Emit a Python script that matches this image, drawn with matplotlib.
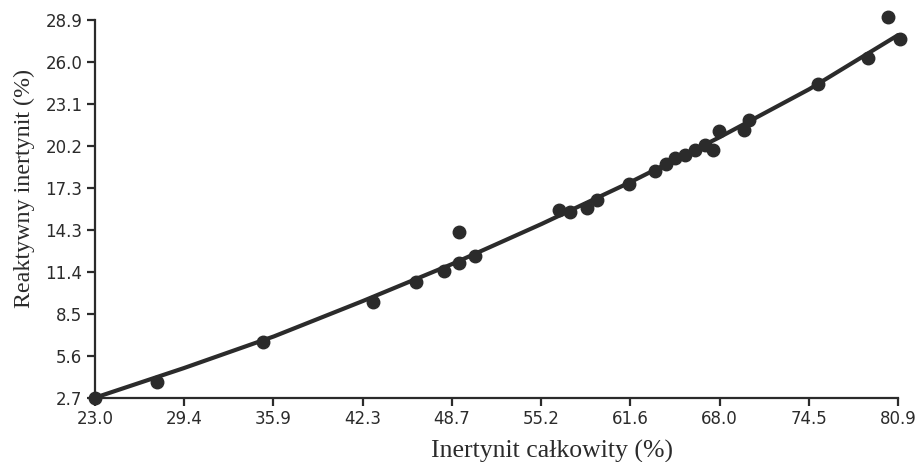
import matplotlib
matplotlib.use("Agg")
import matplotlib.pyplot as plt
import numpy as np

# Measured points
x_pts = [23.0, 27.45, 35.09, 43.07, 46.14, 48.16, 49.24, 50.40, 49.26,
         56.48, 57.25, 58.45, 59.17, 61.52, 63.38, 64.15, 64.82, 65.54,
         66.26, 66.98, 67.58, 68.01, 69.79, 70.15, 75.10, 78.76, 80.20, 81.04]
y_pts = [2.70, 3.81, 6.54, 9.36, 10.75, 11.51, 12.02, 12.55, 14.17,
         15.72, 15.56, 15.84, 16.41, 17.52, 18.41, 18.91, 19.31, 19.54,
         19.88, 20.23, 19.88, 21.22, 21.27, 21.96, 24.46, 26.24, 29.13, 27.56]

# Fitted curve
x_fit = [23.0, 29.4, 35.9, 42.3, 48.7, 55.2, 61.6, 68.0, 74.5, 80.9]
y_fit = [2.70, 4.75, 6.95, 9.40, 11.95, 14.75, 17.65, 20.75, 24.10, 27.85]

xtick_labels = ["23.0", "29.4", "35.9", "42.3", "48.7", "55.2", "61.6", "68.0", "74.5", "80.9"]
ytick_labels = ["2.7", "5.6", "8.5", "11.4", "14.3", "17.3", "20.2", "23.1", "26.0", "28.9"]

ink = "#2b2b2b"

fig = plt.figure(figsize=(9.15, 4.62), dpi=100)
ax = fig.add_axes([0.1038, 0.1392, 0.9814 - 0.1038, 0.9567 - 0.1392])

ax.plot(x_fit, y_fit, color=ink, lw=3.0, solid_capstyle="round", clip_on=False, zorder=3)
ax.plot(x_pts, y_pts, "o", color=ink, ms=9, mec=ink, clip_on=False, zorder=4)

ax.set_xlim(23.0, 80.9)
ax.set_ylim(2.7, 28.9)

xt = np.linspace(23.0, 80.9, len(xtick_labels))
yt = np.linspace(2.7, 28.9, len(ytick_labels))
ax.set_xticks(xt)
ax.set_xticklabels(xtick_labels)
ax.set_yticks(yt)
ax.set_yticklabels(ytick_labels)

for s in ["top", "right"]:
    ax.spines[s].set_visible(False)
for s in ["left", "bottom"]:
    ax.spines[s].set_linewidth(1.6)
    ax.spines[s].set_color(ink)

ax.tick_params(axis="both", direction="out", length=6, width=1.6, color=ink,
               labelsize=12, labelcolor=ink)
ax.tick_params(axis="x", pad=3)
ax.tick_params(axis="y", pad=3)
for lab in ax.get_xticklabels() + ax.get_yticklabels():
    lab.set_fontfamily("DejaVu Sans")

ax.set_xlabel("Inertynit całkowity (%)", fontfamily="Liberation Serif", fontsize=18.5,
              color=ink)
ax.set_ylabel("Reaktywny inertynit (%)", fontfamily="Liberation Serif", fontsize=17.3,
              color=ink)
ax.xaxis.set_label_coords(0.569, -0.112)
ax.yaxis.set_label_coords(-0.0747, 0.554)

fig.savefig("out.png", dpi=100, facecolor="white")
